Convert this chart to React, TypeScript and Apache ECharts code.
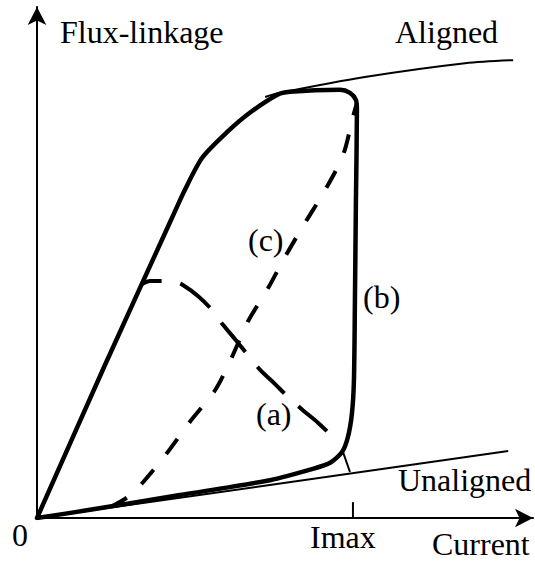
import React, { useEffect, useRef } from "react";
import * as echarts from "echarts";

// Normalised units: current 0..100 (Imax ≈ 63.7), flux-linkage 0..100
const IMAX = 63.7;

// (b) energy loop: rise along aligned curve, fall at Imax, return along unaligned
const loopB: [number, number][] = [
  [0, 0], [13.5, 29.5], [27.2, 58.7], [29.8, 64.2], [33.3, 70.5], [38.3, 75.5],
  [42.9, 79.3], [48.4, 82.8], [51.0, 83.4], [61.1, 83.8], [63.1, 83.2],
  [64.3, 81.8], [64.5, 79.8], [64.3, 62.2], [64.1, 42.7], [63.9, 27.0],
  [63.5, 20.5], [62.7, 15.9], [61.5, 12.9], [59.1, 10.8], [55.6, 9.6],
  [47.0, 7.4], [28.8, 4.5], [10.7, 1.6], [0, 0],
];

// thin aligned magnetisation curve (saturated part)
const alignedCurve: [number, number][] = [
  [46.0, 82.4], [49.0, 83.2], [66.1, 86.3], [86.3, 89.0], [96.0, 89.6],
];

// thin unaligned magnetisation line
const unalignedCurve: [number, number][] = [
  [0, 0], [95.0, 13.1],
];

// (c) dashed trajectory
const curveC: [number, number][] = [
  [15.1, 2.3], [18.3, 4.1], [21.2, 6.8], [26.2, 12.7], [30.8, 18.8],
  [35.9, 25.0], [39.3, 31.5], [42.5, 38.4], [46.6, 45.0], [50.0, 51.1],
  [54.0, 57.7], [58.1, 64.2], [61.7, 71.0], [63.7, 78.5], [64.5, 81.2],
];

// (a) dashed trajectory
const curveA: [number, number][] = [
  [21.2, 45.8], [22.8, 46.4], [25.4, 46.4], [27.8, 46.2], [29.4, 45.6],
  [32.5, 43.4], [35.3, 40.7], [37.5, 37.8], [40.1, 34.8], [42.5, 31.9],
  [45.0, 29.0], [48.0, 26.2], [50.6, 23.7], [53.6, 21.1], [56.7, 18.6],
  [59.5, 16.0],
];

// small de-energising segment down to the unaligned line
const tailB: [number, number][] = [
  [61.7, 12.9], [63.1, 9.0],
];

// Imax tick on the current axis
const imaxTick: [number, number][] = [
  [IMAX, 0], [IMAX, 3.1],
];

const FONT = "'Liberation Serif', 'Times New Roman', serif";

export default function App() {
  const ref = useRef<HTMLDivElement>(null);

  useEffect(() => {
    if (!ref.current) return;
    const chart = echarts.init(ref.current, undefined, { renderer: "svg" });

    const txt = (text: string, x: number, y: number) => ({
      type: "text",
      x,
      y,
      style: {
        text,
        fill: "#000",
        font: `32px ${FONT}`,
        align: "left",
        verticalAlign: "middle",
      },
    });

    chart.setOption({
      animation: false,
      backgroundColor: "#fff",
      grid: { left: 37, top: 7, width: 496, height: 511, containLabel: false },
      xAxis: {
        type: "value",
        min: 0,
        max: 100,
        axisLine: {
          show: true,
          onZero: false,
          lineStyle: { color: "#000", width: 2 },
          symbol: ["none", "arrow"],
          symbolSize: [14, 18],
        },
        axisTick: { show: false },
        axisLabel: { show: false },
        splitLine: { show: false },
      },
      yAxis: {
        type: "value",
        min: 0,
        max: 100,
        axisLine: {
          show: true,
          onZero: false,
          lineStyle: { color: "#000", width: 2 },
          symbol: ["none", "arrow"],
          symbolSize: [14, 18],
        },
        axisTick: { show: false },
        axisLabel: { show: false },
        splitLine: { show: false },
      },
      series: [
        {
          name: "Unaligned",
          type: "line",
          data: unalignedCurve,
          showSymbol: false,
          lineStyle: { color: "#000", width: 2 },
          z: 2,
        },
        {
          name: "Aligned",
          type: "line",
          data: alignedCurve,
          smooth: 0.3,
          showSymbol: false,
          lineStyle: { color: "#000", width: 2 },
          z: 2,
        },
        {
          name: "Imax tick",
          type: "line",
          data: imaxTick,
          showSymbol: false,
          lineStyle: { color: "#000", width: 2 },
          z: 2,
        },
        {
          name: "(b) tail",
          type: "line",
          data: tailB,
          showSymbol: false,
          lineStyle: { color: "#000", width: 2 },
          z: 2,
        },
        {
          name: "(c)",
          type: "line",
          data: curveC,
          smooth: 0.3,
          showSymbol: false,
          lineStyle: { color: "#000", width: 4, type: [19, 20], dashOffset: 2, cap: "butt" },
          z: 3,
        },
        {
          name: "(a)",
          type: "line",
          data: curveA,
          smooth: 0.3,
          showSymbol: false,
          lineStyle: { color: "#000", width: 4, type: [38, 19], dashOffset: 18, cap: "butt" },
          z: 3,
        },
        {
          name: "(b)",
          type: "line",
          data: loopB,
          smooth: 0.25,
          showSymbol: false,
          lineStyle: { color: "#000", width: 4.5, join: "round", cap: "round" },
          z: 4,
        },
      ],
      graphic: [
        txt("Flux-linkage", 60, 32),
        txt("Aligned", 395, 32),
        txt("Unaligned", 398, 480),
        txt("Imax", 310, 537),
        txt("Current", 432, 544),
        txt("0", 12, 535),
        txt("(c)", 248, 240),
        txt("(b)", 363, 297),
        txt("(a)", 256, 414),
      ],
    });

    return () => chart.dispose();
  }, []);

  return <div ref={ref} style={{ width: 535, height: 562, position: "absolute", left: 0, top: 0 }} />;
}
